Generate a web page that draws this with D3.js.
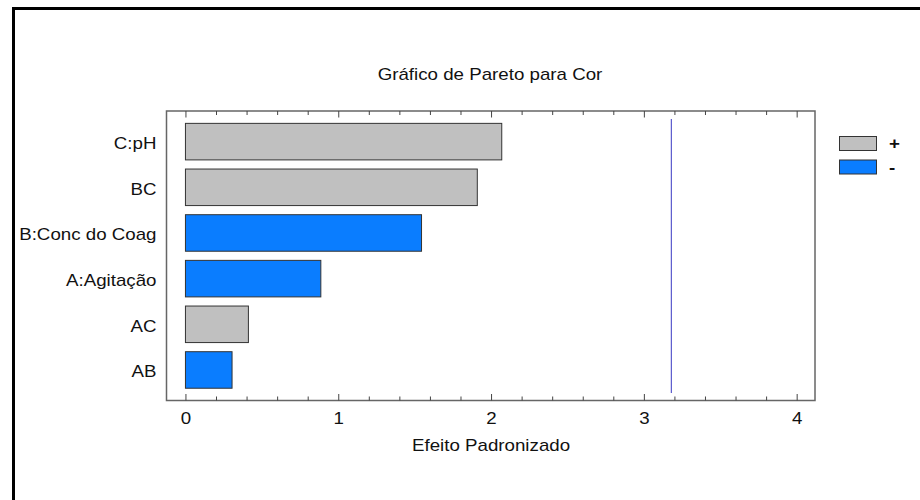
<!DOCTYPE html>
<html>
<head>
<meta charset="utf-8">
<script src="https://cdn.jsdelivr.net/npm/d3@7"></script>
<style>
  html, body { margin: 0; padding: 0; background: #fff; }
  svg { display: block; }
  text { font-family: "Liberation Sans", Arial, sans-serif; fill: #111; }
</style>
</head>
<body>
<svg id="chart" width="920" height="500"></svg>
<script>
// ---- data ----
const categories = ["C:pH", "BC", "B:Conc do Coag", "A:Agitação", "AC", "AB"];
const effects = [2.07, 1.91, 1.545, 0.886, 0.412, 0.305];
const signs = ["+", "+", "-", "-", "+", "-"];
const xTicks = [0, 1, 2, 3, 4];
const criticalValue = 3.18;
const legendItems = ["+", "-"];
const titleText = "Gráfico de Pareto para Cor";
const xTitle = "Efeito Padronizado";

const colors = { "+": "#c0c0c0", "-": "#0a7dff" };
const FONT = "16px";
const STRETCH = 1.17; // reference text is horizontally wide

const svg = d3.select("#chart");

// widen a text element horizontally while keeping its anchor point
function widen(sel) {
  sel.each(function () {
    const t = d3.select(this);
    const xv = +(t.attr("x") || 0);
    t.attr("x", xv / STRETCH).attr("transform", `scale(${STRETCH},1)`);
  });
}

// outer frame (left & top visible)
svg.append("path")
  .attr("d", "M13.5,500 V8.5 H920")
  .attr("fill", "none").attr("stroke", "#000").attr("stroke-width", 3);

const plot = { left: 166.5, right: 815, top: 111, bottom: 400.5 };

const x = d3.scaleLinear()
  .domain([-0.124, 4.12])
  .range([plot.left, plot.right]);

const y = d3.scaleBand()
  .domain(categories)
  .range([118.8, 392.8])
  .paddingInner(0.2)
  .paddingOuter(0.1);

// title
svg.append("text")
  .attr("x", 490).attr("y", 80)
  .attr("text-anchor", "middle")
  .style("font-size", FONT)
  .text(titleText)
  .call(widen);

// bars
svg.append("g").selectAll("rect")
  .data(categories)
  .join("rect")
  .attr("x", x(0))
  .attr("y", d => y(d))
  .attr("width", (d, i) => x(effects[i]) - x(0))
  .attr("height", y.bandwidth())
  .attr("fill", (d, i) => colors[signs[i]])
  .attr("stroke", "#333")
  .attr("stroke-width", 1);

// critical line
svg.append("line")
  .attr("x1", x(criticalValue)).attr("x2", x(criticalValue))
  .attr("y1", 119).attr("y2", 393)
  .attr("stroke", "#5a5acd").attr("stroke-width", 1.2);

// plot frame
svg.append("rect")
  .attr("x", plot.left).attr("y", plot.top)
  .attr("width", plot.right - plot.left)
  .attr("height", plot.bottom - plot.top)
  .attr("fill", "none").attr("stroke", "#666").attr("stroke-width", 1.5);

// ticks (minor every 0.2, major at integers), inward on top and bottom
const minor = d3.range(0, 4.0001, 0.2).map(v => +v.toFixed(1));
const bottomAxis = d3.axisBottom(x).tickValues(minor).tickSize(-4).tickFormat("");
const topAxis = d3.axisTop(x).tickValues(minor).tickSize(-4).tickFormat("");
const gb = svg.append("g").attr("transform", `translate(0,${plot.bottom})`).call(bottomAxis);
const gt = svg.append("g").attr("transform", `translate(0,${plot.top})`).call(topAxis);
[gb, gt].forEach(g => {
  g.select(".domain").remove();
  g.selectAll(".tick line")
    .attr("stroke", "#444")
    .attr("y2", d => (Number.isInteger(d) ? 6.5 : 4) * (g === gb ? -1 : 1));
});

// major labels
const gl = svg.append("g").attr("transform", `translate(0,${plot.bottom})`)
  .call(d3.axisBottom(x).tickValues(xTicks).tickSize(0).tickPadding(12).tickFormat(d3.format("d")));
gl.select(".domain").remove();
gl.selectAll("text").style("font-size", FONT).attr("fill", "#111")
  .style("font-family", "'Liberation Sans', Arial, sans-serif")
  .call(widen);

// x title
svg.append("text")
  .attr("x", x(2)).attr("y", 451)
  .attr("text-anchor", "middle")
  .style("font-size", FONT)
  .text(xTitle)
  .call(widen);

// y labels
const gy = svg.append("g").attr("transform", `translate(${plot.left},0)`)
  .call(d3.axisLeft(y).tickSize(0).tickPadding(10));
gy.select(".domain").remove();
gy.selectAll("text").style("font-size", FONT).attr("fill", "#111")
  .attr("dy", "0.45em")
  .style("font-family", "'Liberation Sans', Arial, sans-serif")
  .call(widen);

// legend
const lg = svg.append("g");
legendItems.forEach((k, i) => {
  lg.append("rect")
    .attr("x", 839.5).attr("y", 136.5 + i * 23.5)
    .attr("width", 37).attr("height", 14)
    .attr("fill", colors[k]).attr("stroke", "#333").attr("stroke-width", 1);
  lg.append("text")
    .attr("x", 889).attr("y", 143.5 + i * 23.5)
    .attr("dy", "0.35em")
    .style("font-size", FONT)
    .style("font-weight", "bold")
    .text(k)
    .call(widen);
});
</script>
</body>
</html>
